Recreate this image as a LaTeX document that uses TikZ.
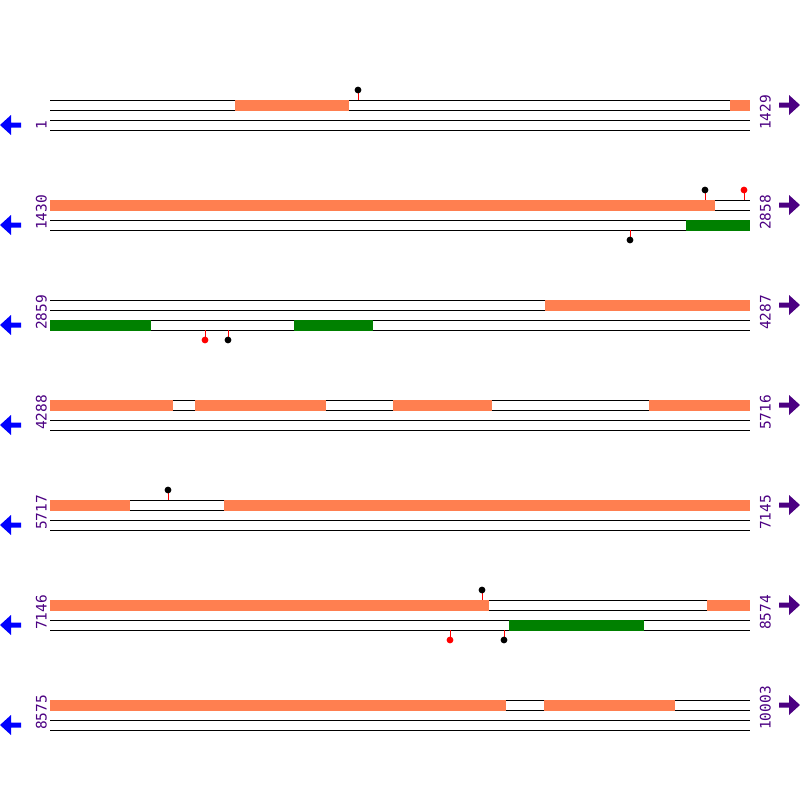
\documentclass[tikz,border=0pt]{standalone}
\usepackage{fontspec}
\newfontfamily\numfont{DejaVu Sans Mono}
\definecolor{coralc}{HTML}{FF7F50}
\definecolor{greenc}{HTML}{008000}
\definecolor{indigoc}{HTML}{4B0082}
\begin{document}
\begin{tikzpicture}[x=1pt,y=-1pt,
  track/.style={black,line width=1pt},
  fbox/.style={fill=coralc,draw=none},
  rbox/.style={fill=greenc,draw=none},
  stem/.style={red,line width=1pt},
  ballk/.style={fill=black,draw=none},
  ballr/.style={fill=red,draw=none},
  numlbl/.style={font=\numfont\fontsize{14.5}{16}\selectfont,text=indigoc,rotate=90,anchor=base west,inner sep=0pt},
  larrow/.style={fill=blue,draw=none},
  rarrow/.style={fill=indigoc,draw=none}]
\useasboundingbox (0,0) rectangle (800,800);
% tracks, labels, arrows
\foreach \r/\a/\b [count=\i] in {100/1/1429,200/1430/2858,300/2859/4287,400/4288/5716,500/5717/7145,600/7146/8574,700/8575/10003}{
  \draw[track] (50,\r) -- (750,\r);
  \draw[track] (50,\r+10) -- (750,\r+10);
  \draw[track] (50,\r+20) -- (750,\r+20);
  \draw[track] (50,\r+30) -- (750,\r+30);
  \node[numlbl] (L\i) at (46.5,\r+30) {\a};
  \node[numlbl] (R\i) at (770.5,\r+30) {\b};
  \fill[larrow] (0,\r+25) -- (11,\r+15) -- (11,\r+22.5) -- (21,\r+22.5) -- (21,\r+27.5) -- (11,\r+27.5) -- (11,\r+35) -- cycle;
  \fill[rarrow] (800,\r+5) -- (789,\r-5) -- (789,\r+2.5) -- (779,\r+2.5) -- (779,\r+7.5) -- (789,\r+7.5) -- (789,\r+15) -- cycle;
}
% forward (orange) boxes
\foreach \r/\x/\y in {100/235/349,100/730/750,
  200/50/715,
  300/545/750,
  400/50/173,400/195/326,400/393/492,400/649/750,
  500/50/130,500/224/750,
  600/50/489,600/707/750,
  700/50/506,700/544/675}{
  \fill[fbox] (\x,\r-0.5) rectangle (\y,\r+10.5);
}
% reverse (green) boxes
\foreach \r/\x/\y in {200/686/750,300/50/151,300/294/373,600/509/644}{
  \fill[rbox] (\x,\r+19.5) rectangle (\y,\r+30.5);
}
% lollipops above
\foreach \r/\x/\s in {100/358/ballk,200/705/ballk,200/744/ballr,500/168/ballk,600/482/ballk}{
  \draw[stem] (\x,\r) -- (\x,\r-10);
  \fill[\s] (\x,\r-10) circle (3.4);
}
% lollipops below
\foreach \r/\x/\s in {200/630/ballk,300/205/ballr,300/228/ballk,600/450/ballr,600/504/ballk}{
  \draw[stem] (\x,\r+30) -- (\x,\r+40);
  \fill[\s] (\x,\r+40) circle (3.4);
}
\end{tikzpicture}
\end{document}
